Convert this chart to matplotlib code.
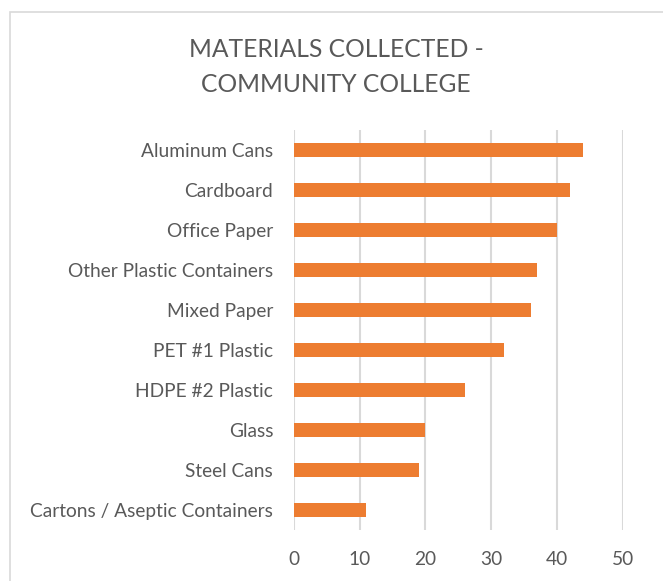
import matplotlib
matplotlib.use("Agg")
import matplotlib.pyplot as plt
from matplotlib.patches import Rectangle

categories = ["Aluminum Cans", "Cardboard", "Office Paper", "Other Plastic Containers",
              "Mixed Paper", "PET #1 Plastic", "HDPE #2 Plastic", "Glass", "Steel Cans",
              "Cartons / Aseptic Containers"]
values = [44, 42, 40, 37, 36, 32, 26, 20, 19, 11]
xticks = [0, 10, 20, 30, 40, 50]
title = "MATERIALS COLLECTED -\nCOMMUNITY COLLEGE"

plt.rcParams['font.family'] = ['Lato', 'DejaVu Sans']
text_color = "#595959"
bar_color = "#ED7D31"
grid_color = "#D9D9D9"

fig = plt.figure(figsize=(6.63, 5.81), dpi=100)
ax = fig.add_axes([294/663, 1-530/581, (622.7-294)/663, 400/581])

y = list(range(len(categories)))
ax.barh(y, values, height=0.34, color=bar_color, zorder=3)
ax.set_ylim(len(categories)-0.5, -0.5)
ax.set_xlim(0, 50)
ax.set_xticks(xticks)
ax.set_xticklabels([str(t) for t in xticks])
ax.set_yticks(y)
ax.set_yticklabels(categories)
ax.tick_params(axis='both', length=0, colors=text_color, labelsize=13.8)
ax.tick_params(axis='x', pad=15)
ax.tick_params(axis='y', pad=15)
for s in ax.spines.values():
    s.set_visible(False)
ax.xaxis.grid(True, color=grid_color, linewidth=1.5, zorder=0)
ax.set_axisbelow(True)

fig.text(336/663, 1-67/581, title, ha='center', va='center', fontsize=17.7,
         color=text_color, linespacing=1.6, fontweight='normal')

fig.patches.append(Rectangle((9.5/663, -0.1), 1.2, 1-11.7/581+0.1, transform=fig.transFigure,
                             fill=False, edgecolor=grid_color, linewidth=1.2))

fig.savefig("out.png", dpi=100)
